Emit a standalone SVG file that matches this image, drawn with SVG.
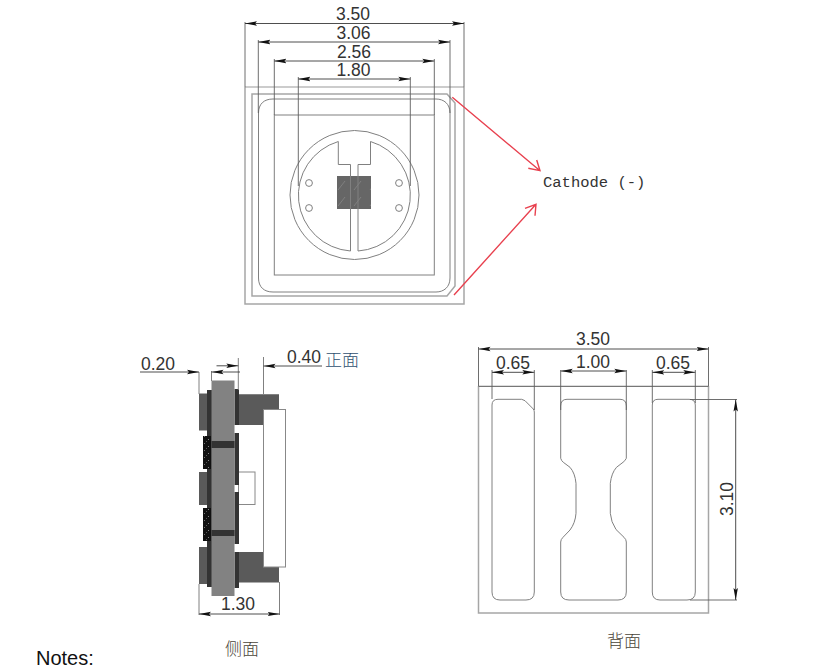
<svg xmlns="http://www.w3.org/2000/svg" width="833" height="669" viewBox="0 0 833 669">
<style>
text{font-family:"Liberation Sans",Arial,sans-serif;font-size:17.5px;fill:#333}
.c{text-anchor:middle}
.cjk{font-family:"Noto Sans CJK SC",sans-serif;font-size:17px;font-weight:300;fill:#4a4438;text-anchor:middle}
.o{fill:none;stroke:#a6a6a6;stroke-width:1.5}
.k{fill:none;stroke:#808080;stroke-width:1}
.x{fill:none;stroke:#5e5e5e;stroke-width:.9}
.d{fill:none;stroke:#3a3a3a;stroke-width:.9}
.ds{marker-start:url(#a);marker-end:url(#a)}
.de{marker-end:url(#a)}
.r{fill:none;stroke:#e8414f;stroke-width:1.4}
.dk{fill:#333}.md{fill:#5a5a5a}.gr{fill:#828282}
.w{fill:#fff;stroke:#888;stroke-width:1}
</style>
<defs>
<marker id="a" markerUnits="userSpaceOnUse" markerWidth="12" markerHeight="6" refX="12" refY="3" orient="auto-start-reverse"><path d="M0 .8L12 3L0 5.200L2 3Z" fill="#111"/></marker>
<pattern id="sp" width="7" height="7" patternUnits="userSpaceOnUse"><rect width="7" height="7" fill="#111"/><rect x="1" y="2" width="1" height="1" fill="#777"/><rect x="5" y="5" width="1" height="1" fill="#888"/><rect x="3" y="0" width="1" height="1" fill="#555"/></pattern>
<pattern id="ch" width="16" height="16" patternUnits="userSpaceOnUse"><rect width="16" height="16" fill="#666"/><path d="M2 14L9 5" stroke="#8a8a8a" stroke-width=".7"/></pattern>
</defs>
<rect width="833" height="669" fill="#fff"/>

<g id="top-view">
<path class="o" d="M245 87V304H464V87"/>
<path class="k" d="M245 87H464" stroke-opacity=".8"/>
<path class="o" d="M252 94V296H447L455 286V103L447 94Z"/>
<path class="k" d="M258.500 113C258.500 104 264 99 273 99H436C444 99 450 104 450 113M258.500 113V278C258.500 287 264 292 273 292H436C444 292 450 287 450 278V113"/>
<rect class="k" x="274.300" y="115" width="160" height="160"/>
<rect x="337" y="176" width="34" height="33" fill="url(#ch)"/>
<circle class="k" cx="354.500" cy="195" r="64.500"/>
<path class="k" d="M338.300 141.500V164.500H350.500V251A56 56 0 0 1 338.300 141.500Z"/>
<path class="k" d="M370.500 141.500V164.500H358V251A56 56 0 0 0 370.500 141.500Z"/>
<circle class="k" cx="309" cy="183" r="3.400"/><circle class="k" cx="309" cy="208" r="3.400"/>
<circle class="k" cx="399" cy="183" r="3.400"/><circle class="k" cx="399" cy="208" r="3.400"/>
<text class="c" x="353" y="20">3.50</text>
<text class="c" x="353.500" y="38.500">3.06</text>
<text class="c" x="354" y="58">2.56</text>
<text class="c" x="353.500" y="76">1.80</text>
</g>

<g id="side-view">
<path class="md" d="M239 394.300H279V409H263.500V425H239Z"/>
<path class="md" d="M239 552H263.500V567H279V582.500H239Z"/>
<rect class="md" x="199" y="393.500" width="8.500" height="37"/>
<rect class="md" x="199" y="472" width="8.500" height="33"/>
<rect class="md" x="199" y="547" width="8.500" height="37"/>
<rect class="w" x="238.500" y="472" width="16.500" height="32.500"/>
<rect class="w" x="263.500" y="409.500" width="22" height="157.500"/>
<rect class="dk" x="207" y="390" width="5" height="197"/>
<rect x="203" y="436" width="8" height="33" fill="url(#sp)"/>
<rect x="203" y="508" width="8" height="33" fill="url(#sp)"/>
<rect class="dk" x="234.500" y="389" width="4.500" height="36"/>
<rect class="dk" x="234.500" y="433" width="4.500" height="52"/>
<rect class="dk" x="234.500" y="492" width="4.500" height="52"/>
<rect class="dk" x="234.500" y="552" width="4.500" height="36"/>
<rect class="gr" x="211.500" y="380.500" width="23" height="215.500"/>
<rect class="dk" x="211.500" y="441" width="23" height="7"/>
<rect class="dk" x="211.500" y="530" width="23" height="6"/>
<text x="141" y="370">0.20</text>
<text x="287" y="363">0.40</text>
<text class="c" x="238" y="610">1.30</text>
<text class="cjk" x="342" y="365.500" style="fill:#2f5070">正面</text>
<text class="cjk" x="242" y="655">侧面</text>
</g>

<g id="back-view">
<path class="o" d="M478.500 386V613H708.500V386"/>
<path class="k" d="M478.500 386.300H708.500" style="stroke:#555"/>
<path class="k" d="M498 399.300H521.700L525 400.700L533.300 409Q534.300 410.500 534.300 412V592Q534.300 600 526 600H500Q492 600 492 592V405Q492 399.300 498 399.300Z"/>
<path class="k" d="M567 399.300H620Q626.300 399.300 626.300 406V458.300Q625 461 623 462.300L616.500 467.300Q611.500 473 610.300 483.300V513.300Q611 522 616 529.500L624 537.300Q626.300 539.500 626.300 542V592Q626.300 600 618 600H569Q560.700 600 560.700 592V542Q560.700 539.500 563 537.300L570 530Q575.300 523 576 513.300V483.300Q575 473 570 467.300L563.300 462.300Q561.500 461 560.700 458.300V406Q560.700 399.300 567 399.300Z"/>
<path class="k" d="M658 399.300H689Q695.300 399.300 695.300 405V592Q695.300 600 687 600H660Q652.300 600 652.300 592V405Q652.300 399.300 658 399.300Z"/>
<text class="c" x="593" y="345">3.50</text>
<text class="c" x="513" y="369">0.65</text>
<text class="c" x="593" y="368">1.00</text>
<text class="c" x="673" y="369">0.65</text>
<text class="c" transform="translate(733 499) rotate(-90)">3.10</text>
<text class="cjk" x="624" y="647">背面</text>
</g>

<g id="cathode-label">
<text x="543" y="187" style="font-family:'Liberation Mono',monospace;font-size:15.500px">Cathode (-)</text>
</g>

<g id="notes">
<text x="36" y="664.500" style="font-size:20px;fill:#111">Notes:</text>
</g>

<g id="connectors">
<path class="r" d="M452.300 97.300L540 170.700M528.300 168.300L540 170.700L536.700 160"/>
<path class="r" d="M454 295L536 204.300M525 208.300L536 204.300L535 215.700"/>
<path class="x" d="M245 22V87M464 22V87M258.300 40V113M450 40V113M274.300 59V115M434.300 59V115M298.300 77V186M410.300 77V186"/>
<path class="d ds" d="M245 23.500H464"/>
<path class="d ds" d="M258.300 42H450"/>
<path class="d ds" d="M274.300 61H434.300"/>
<path class="d ds" d="M298.300 79H410.300"/>
<path class="k" d="M199 372V394M211.500 371V381M238.300 358V390M263.500 357V394M199 584V615M279.500 582V615"/>
<path class="d de" d="M140 372H199"/>
<path class="d de" d="M240 372H211.500"/>
<path class="d de" d="M216.500 365.800H238.300"/>
<path class="d de" d="M322 366H263.500"/>
<path class="d ds" d="M199 614H279.500"/>
<path class="x" d="M478.500 347V386M708.500 347V386M492 370V399M534.300 370V410M560.700 370V410M626.300 370V410M652.300 370V403M695.300 370V403M690 399.500H737M690 600H737"/>
<path class="d ds" d="M478.500 349H708.500"/>
<path class="d ds" d="M492 372.300H534.300"/>
<path class="d ds" d="M560.700 371H626.300"/>
<path class="d ds" d="M652.300 372.300H695.300"/>
<path class="d ds" d="M735.700 399.500V600"/>
</g>
</svg>
